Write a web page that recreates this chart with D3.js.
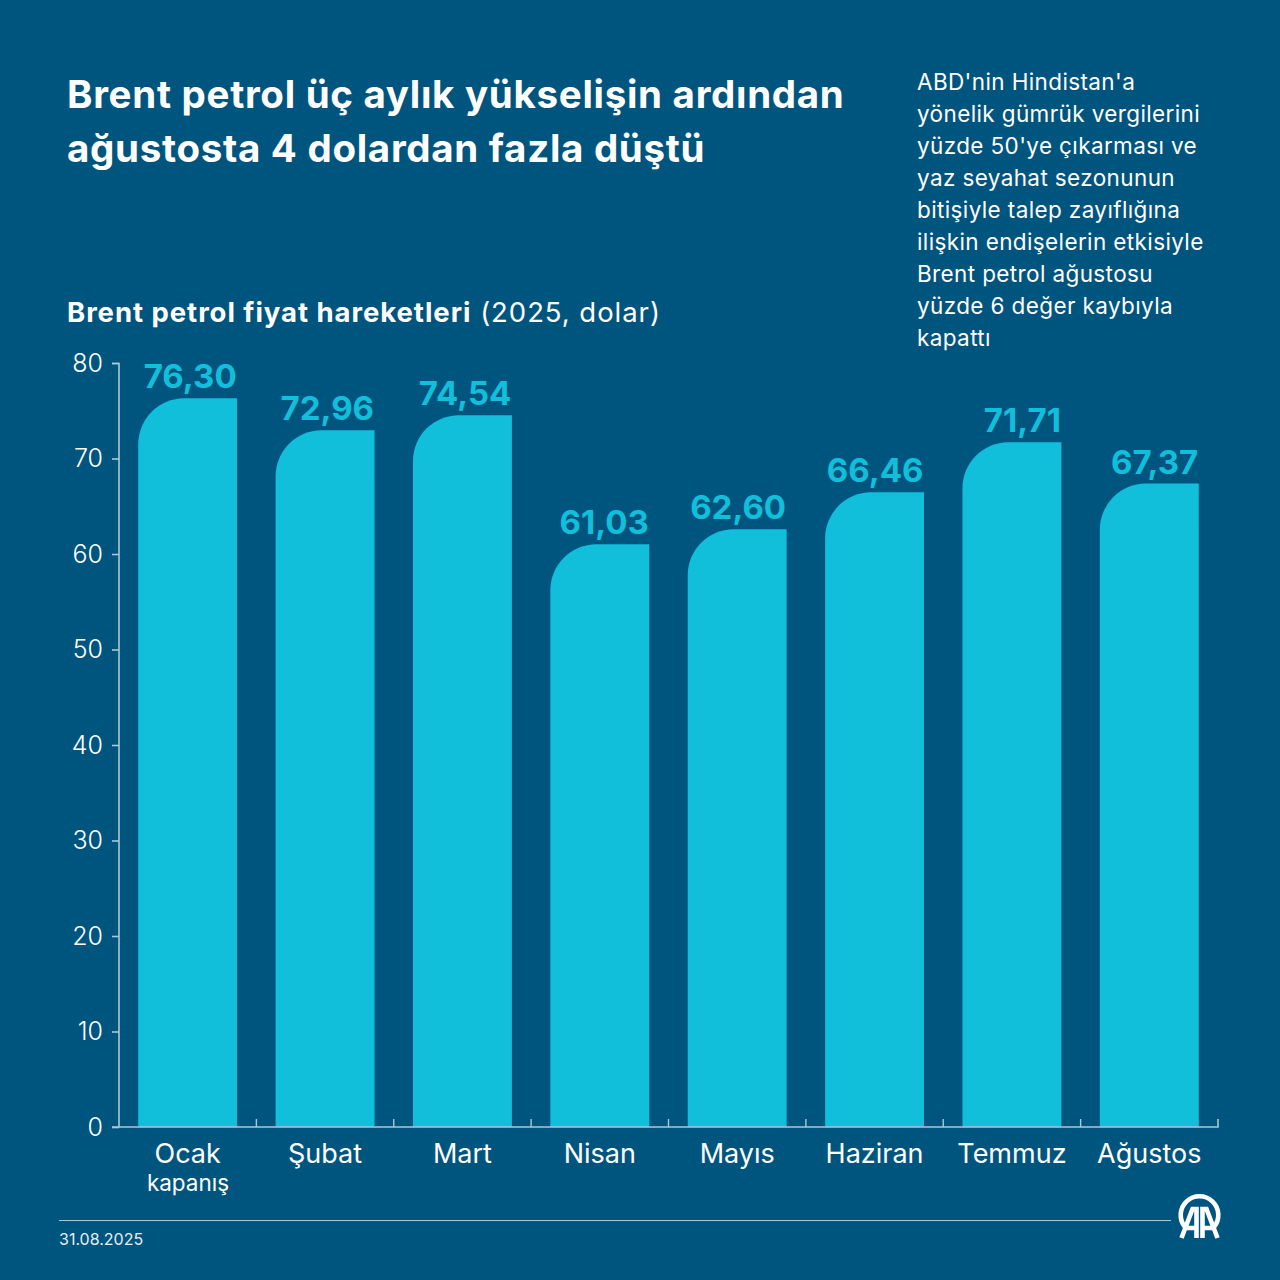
<!DOCTYPE html>
<html><head><meta charset="utf-8">
<script src="https://cdn.jsdelivr.net/npm/d3@7"></script>
<style>
html,body{margin:0;padding:0;background:#00557f}
svg{display:block}
text{font-family:Inter,Lato,sans-serif}
</style></head><body>
<svg id="c" width="1280" height="1280"></svg>
<script>
const months=["Ocak","Şubat","Mart","Nisan","Mayıs","Haziran","Temmuz","Ağustos"];
const prices=[76.30,72.96,74.54,61.03,62.60,66.46,71.71,67.37];
const yTicks=[0,10,20,30,40,50,60,70,80];
const titleLines=["Brent petrol üç aylık yükselişin ardından","ağustosta 4 dolardan fazla düştü"];
const noteLines=["ABD'nin Hindistan'a","yönelik gümrük vergilerini","yüzde 50'ye çıkarması ve","yaz seyahat sezonunun","bitişiyle talep zayıflığına","ilişkin endişelerin etkisiyle","Brent petrol ağustosu","yüzde 6 değer kaybıyla","kapattı"];
const bg="#00557f",bar="#12bfdb",ink="#ffffff",axisCol="#a9c8d6";

const svg=d3.select("#c");
svg.append("rect").attr("width",1280).attr("height",1280).attr("fill",bg);

const x=d3.scaleBand().domain(months).range([119,1218]).paddingInner(0.28).paddingOuter(0.14);
const y=d3.scaleLinear().domain([0,80]).range([1127,363]);
const fmt=v=>v.toFixed(2).replace(".",",");

// title
svg.append("g").selectAll("text").data(titleLines).join("text")
 .attr("x",67).attr("y",(d,i)=>108+i*54).attr("fill",ink)
 .attr("font-size",38.5).attr("font-weight",700).attr("letter-spacing",0.7).text(d=>d);

// note
svg.append("g").selectAll("text").data(noteLines).join("text")
 .attr("x",917).attr("y",(d,i)=>90+i*32).attr("fill",ink)
 .attr("font-size",22.5).attr("font-weight",400).attr("letter-spacing",0.38).text(d=>d);

// subtitle
const sub=svg.append("text").attr("x",67).attr("y",322).attr("fill",ink).attr("font-size",27.5).attr("letter-spacing",0.95);
sub.append("tspan").attr("font-weight",700).text("Brent petrol fiyat hareketleri");
sub.append("tspan").attr("font-weight",400).text(" (2025, dolar)");

// bars
const r=46;
svg.append("g").selectAll("path").data(months).join("path")
 .attr("fill",bar)
 .attr("d",(m,i)=>{
   const x0=x(m),x1=x0+x.bandwidth(),t=y(prices[i]),b=y(0);
   return `M${x0},${b}V${t+r}A${r},${r} 0 0 1 ${x0+r},${t}H${x1}V${b}Z`;
 });

// value labels (right-aligned to the bar's right edge)
svg.append("g").selectAll("text").data(months).join("text")
 .attr("x",m=>x(m)+x.bandwidth()-0.5).attr("y",(m,i)=>y(prices[i])-10)
 .attr("text-anchor","end").attr("fill",bar).attr("font-size",33).attr("font-weight",700)
 .text((m,i)=>fmt(prices[i]));

// y axis
const gy=svg.append("g").attr("transform","translate(119,0)")
 .call(d3.axisLeft(y).tickValues(yTicks).tickSize(7).tickPadding(9));
gy.selectAll("path,line").attr("stroke",axisCol).attr("stroke-width",1.6);
gy.selectAll("text").attr("fill",ink).attr("font-size",25).attr("font-weight",300).attr("font-family","Inter,sans-serif");
gy.select(".domain").attr("d","M-7,363.5H0V1127");

// x axis baseline and band separators
const gx=svg.append("g").attr("transform","translate(0,1127)")
 .call(d3.axisBottom(x).tickSize(0).tickPadding(14));
gx.select(".domain").attr("stroke",axisCol).attr("stroke-width",1.6).attr("d","M112,0H1218V-8");
gx.selectAll("text").attr("fill",ink).attr("font-size",27).attr("font-family","Inter,sans-serif").attr("dy","0.72em").attr("y",16.5);
svg.append("g").selectAll("line").data(months.slice(1)).join("line")
 .attr("x1",m=>x(m)-x.step()*x.paddingInner()/2).attr("x2",m=>x(m)-x.step()*x.paddingInner()/2)
 .attr("y1",1127).attr("y2",1119).attr("stroke",axisCol).attr("stroke-width",1.4);

svg.append("text").attr("x",188).attr("y",1191).attr("text-anchor","middle").attr("fill",ink)
 .attr("font-size",22.5).text("kapanış");

// footer
svg.append("line").attr("x1",59).attr("x2",1171).attr("y1",1220.5).attr("y2",1220.5).attr("stroke",axisCol).attr("stroke-width",1.2);
svg.append("text").attr("x",59).attr("y",1244.5).attr("fill",ink).attr("opacity",0.9).attr("font-size",16).attr("font-family","Roboto,sans-serif").text("31.08.2025");

// logo
const logo=svg.append("g").attr("transform","translate(1199.5,1217)");
logo.append("path").attr("fill","none").attr("stroke",ink).attr("stroke-width",4.6)
 .attr("d","M-14.5,10A18.8,18.8 0 1 1 14.5,10");
const a=logo.append("g").attr("fill","none").attr("stroke",ink).attr("stroke-width",4.6);
a.append("path").attr("d","M-18,21L-7,-8H-3V21M-13,11H-3");
a.append("path").attr("d","M18,21L7,-8H3V21M13,11H3");
</script>
</body></html>
